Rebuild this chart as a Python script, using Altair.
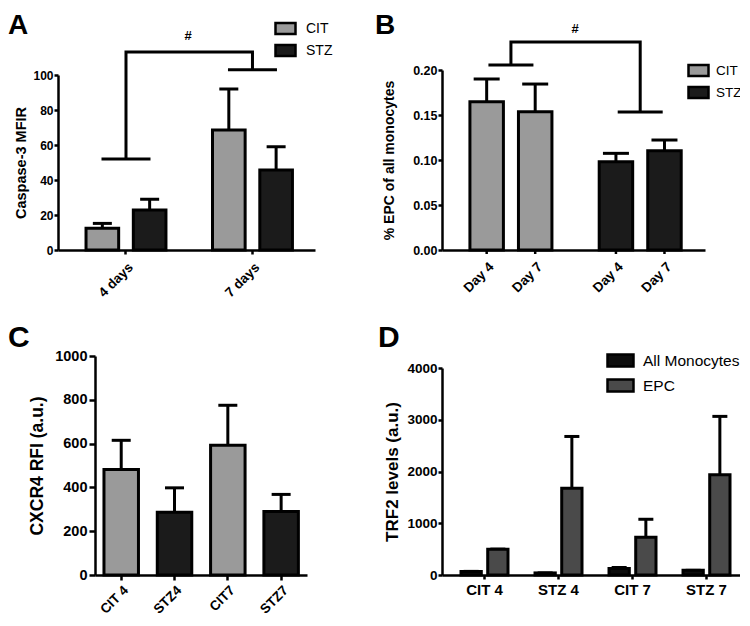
import altair as alt
import pandas as pd

FONT = "Liberation Sans"
CIT_C = "#9a9a9a"
STZ_C = "#1b1b1b"
AM_C = "#0d0d0d"
EPC_C = "#4a4a4a"
SW = 3  # stroke width used for bars / whiskers / brackets

# ---------------- data ----------------
# Panel A
a_groups = ["4 days", "7 days"]
a_series = ["CIT", "STZ"]
a_cit_mean = [12.4, 68.6]
a_cit_upper = [15.2, 92.0]
a_stz_mean = [22.9, 45.7]
a_stz_upper = [29.0, 59.0]
a_bracket_low = [52.0, 103.0]
a_bracket_top = 113.1
a_hash_y = 120.0

# Panel B
b_groups = ["CIT", "STZ"]
b_days = ["Day 4", "Day 7"]
b_cit_mean = [0.1648, 0.1537]
b_cit_upper = [0.190, 0.1844]
b_stz_mean = [0.0981, 0.1104]
b_stz_upper = [0.1074, 0.1222]
b_bracket_low = [0.2056, 0.1533]
b_bracket_top = 0.2311
b_hash_y = 0.241

# Panel C
c_labels = ["CIT 4", "STZ4", "CIT7", "STZ7"]
c_group = ["CIT", "STZ", "CIT", "STZ"]
c_mean = [482, 286, 593, 290]
c_upper = [615, 398, 775, 368]

# Panel D
d_labels = ["CIT 4", "STZ 4", "CIT 7", "STZ 7"]
d_series = ["All Monocytes", "EPC"]
d_all_mean = [70, 40, 128, 90]
d_all_upper = [70, 40, 145, 90]
d_epc_mean = [500, 1677, 729, 1935]
d_epc_upper = [500, 2677, 1077, 3065]

W1, W2 = 257, 302
H1, H2 = 180, 219


def yaxis(title, values, fmt, lsize, tsize, tpad, tick=4, lpad=1, offset=0):
    return alt.Axis(title=title, values=values, format=fmt, grid=False,
                    labelFont=FONT, labelFontWeight="bold", labelFontSize=lsize, labelColor="black",
                    labelPadding=lpad, titleFont=FONT, titleFontWeight="bold", titleFontSize=tsize,
                    titleColor="black", titlePadding=tpad, tickSize=tick, tickWidth=2.5, tickColor="black",
                    domainColor="black", domainWidth=2.5, offset=offset)


def xaxis(angle, lsize, lpad=2, tick=4):
    return alt.Axis(title=None, labelAngle=angle, labelFont=FONT, labelFontWeight="bold",
                    labelFontSize=lsize, labelColor="black", labelPadding=lpad, tickSize=tick,
                    tickWidth=2.5, tickColor="black", domainColor="black", domainWidth=2.5, grid=False)


def rect_legend(x, y, path, size, lsize, loff, rpad):
    return alt.Legend(title=None, orient="none", legendX=x, legendY=y, symbolType=path,
                      symbolSize=size, symbolStrokeColor="black", symbolStrokeWidth=2.5,
                      labelFont=FONT, labelFontSize=lsize, labelColor="black", labelOffset=loff,
                      rowPadding=rpad, padding=0)


def panel_label(letter, x, y, size):
    return alt.Chart(pd.DataFrame({"lbl": [letter]})).mark_text(
        align="left", baseline="top", font=FONT, fontWeight="bold", fontSize=size, color="black"
    ).encode(text="lbl:N", x=alt.value(x), y=alt.value(y))


def hash_text(df, x, y):
    return alt.Chart(df).mark_text(font=FONT, fontWeight="bold", fontSize=13, color="black",
                                   baseline="alphabetic").encode(x=alt.value(x), y=y, text="t:N")


# ---------------- Panel A ----------------
a_df = pd.DataFrame({
    "a_group": a_groups * 2,
    "a_series": ["CIT"] * 2 + ["STZ"] * 2,
    "a_mean": a_cit_mean + a_stz_mean,
    "a_upper": a_cit_upper + a_stz_upper,
})
a_path = pd.DataFrame({
    "a_group": [a_groups[0], a_groups[0], a_groups[1], a_groups[1]],
    "a_by": [a_bracket_low[0], a_bracket_top, a_bracket_top, a_bracket_low[1]],
    "a_ord": [0, 1, 2, 3],
})
a_low = pd.DataFrame({"a_group": a_groups, "a_low": a_bracket_low})
a_hash = pd.DataFrame({"a_hash": [a_hash_y], "t": ["#"]})

a_xscale = alt.Scale(domain=a_groups, range=[0, W1], paddingInner=0.368, paddingOuter=0.2, align=0.554)
a_xax = xaxis(315, 13.5, lpad=6)
a_yscale = alt.Scale(domain=[0, 100], range=[H1, 5], nice=False)
a_yax = yaxis("Caspase-3 MFIR", [0, 20, 40, 60, 80, 100], "d", 12, 14.5, 4)
a_xo = alt.XOffset("a_series:N", scale=alt.Scale(domain=a_series, paddingInner=0.31, paddingOuter=0))


def ax():
    return alt.X("a_group:N", scale=a_xscale, axis=a_xax)


def ay(f):
    return alt.Y(f, type="quantitative", scale=a_yscale, axis=a_yax)


a_base = alt.Chart(a_df)
A = alt.layer(
    a_base.mark_rule(color="black", strokeWidth=SW).encode(x=ax(), xOffset=a_xo, y=ay("a_mean"), y2="a_upper"),
    a_base.mark_tick(orient="horizontal", size=19, thickness=SW, color="black", opacity=1).encode(
        x=ax(), xOffset=a_xo, y=ay("a_upper")),
    a_base.mark_bar(stroke="black", strokeWidth=SW, opacity=1).encode(
        x=ax(), xOffset=a_xo, y=ay("a_mean"),
        color=alt.Color("a_series:N", scale=alt.Scale(domain=a_series, range=[CIT_C, STZ_C]),
                        legend=rect_legend(216, -53, "M-1,-0.55H1V0.55H-1Z", 400, 14, 9, 0))),
    alt.Chart(a_path).mark_line(color="black", strokeWidth=SW).encode(x=ax(), y=ay("a_by"), order="a_ord:Q"),
    alt.Chart(a_low).mark_tick(orient="horizontal", size=49, thickness=SW, color="black", opacity=1).encode(
        x=ax(), y=ay("a_low")),
    hash_text(a_hash, 130, ay("a_hash")),
    panel_label("A", -50, -58, 28),
).properties(width=W1, height=H1)

# ---------------- Panel B ----------------
b_df = pd.DataFrame({
    "b_group": ["CIT", "CIT", "STZ", "STZ"],
    "b_day": b_days * 2,
    "b_mean": b_cit_mean + b_stz_mean,
    "b_upper": b_cit_upper + b_stz_upper,
})
b_path = pd.DataFrame({
    "b_group": [b_groups[0], b_groups[0], b_groups[1], b_groups[1]],
    "b_by": [b_bracket_low[0], b_bracket_top, b_bracket_top, b_bracket_low[1]],
    "b_ord": [0, 1, 2, 3],
})
b_low = pd.DataFrame({"b_group": b_groups, "b_low": b_bracket_low})
b_hash = pd.DataFrame({"b_hash": [b_hash_y], "t": ["#"]})

b_xscale = alt.Scale(domain=b_groups, range=[0, 263], paddingInner=0.3656, paddingOuter=0.2, align=0.54)
b_xax = alt.Axis(title=None, labels=False, ticks=False, domainColor="black", domainWidth=2.5, grid=False)
b_yscale = alt.Scale(domain=[0, 0.2], range=[H1, 0], nice=False)
b_yax = yaxis("% EPC of all monocytes", [0, 0.05, 0.1, 0.15, 0.2], ".2f", 12.5, 14, 16)
b_xo = alt.XOffset("b_day:N", scale=alt.Scale(domain=b_days, paddingInner=0.31, paddingOuter=0))


def bx():
    return alt.X("b_group:N", scale=b_xscale, axis=b_xax)


def by(f):
    return alt.Y(f, type="quantitative", scale=b_yscale, axis=b_yax)


b_base = alt.Chart(b_df)
B = alt.layer(
    b_base.mark_rule(color="black", strokeWidth=SW).encode(x=bx(), xOffset=b_xo, y=by("b_mean"), y2="b_upper"),
    b_base.mark_tick(orient="horizontal", size=26, thickness=SW, color="black", opacity=1).encode(
        x=bx(), xOffset=b_xo, y=by("b_upper")),
    b_base.mark_bar(stroke="black", strokeWidth=SW, opacity=1).encode(
        x=bx(), xOffset=b_xo, y=by("b_mean"),
        color=alt.Color("b_group:N", scale=alt.Scale(domain=b_groups, range=[CIT_C, STZ_C]),
                        legend=rect_legend(245, -11, "M-1,-0.55H1V0.55H-1Z", 400, 13.5, 6, 0))),
    b_base.mark_rule(color="black", strokeWidth=2.5).encode(
        x=bx(), xOffset=b_xo, y=alt.value(H1), y2=alt.value(H1 + 4)),
    b_base.mark_text(angle=315, align="right", baseline="top", font=FONT, fontWeight="bold", fontSize=13.5,
                     color="black").encode(x=bx(), xOffset=b_xo, y=alt.value(H1 + 10), text="b_day:N"),
    alt.Chart(b_path).mark_line(color="black", strokeWidth=SW).encode(x=bx(), y=by("b_by"), order="b_ord:Q"),
    alt.Chart(b_low).mark_tick(orient="horizontal", size=45, thickness=SW, color="black", opacity=1).encode(
        x=bx(), y=by("b_low")),
    hash_text(b_hash, 133, by("b_hash")),
    panel_label("B", -67, -58, 28),
).properties(width=W2, height=H1)

# ---------------- Panel C ----------------
c_df = pd.DataFrame({"c_label": c_labels, "c_group": c_group, "c_mean": c_mean, "c_upper": c_upper})
c_xscale = alt.Scale(domain=c_labels, range=[37, 249], paddingInner=0.353, paddingOuter=0.165, align=0.51)
c_xax = xaxis(315, 13.5, lpad=3, tick=5)
c_yscale = alt.Scale(domain=[0, 1000], range=[H2, 0], nice=False)
c_yax = yaxis("CXCR4 RFI (a.u.)", [0, 200, 400, 600, 800, 1000], "d", 14.5, 17.5, 8, tick=6, lpad=2, offset=-37)


def cx():
    return alt.X("c_label:N", sort=c_labels, scale=c_xscale, axis=c_xax)


def cy(f):
    return alt.Y(f, type="quantitative", scale=c_yscale, axis=c_yax)


c_base = alt.Chart(c_df)
C = alt.layer(
    c_base.mark_rule(color="black", strokeWidth=SW).encode(x=cx(), y=cy("c_mean"), y2="c_upper"),
    c_base.mark_tick(orient="horizontal", size=19, thickness=SW, color="black", opacity=1).encode(
        x=cx(), y=cy("c_upper")),
    c_base.mark_bar(stroke="black", strokeWidth=SW, opacity=1).encode(
        x=cx(), y=cy("c_mean"),
        color=alt.Color("c_group:N", scale=alt.Scale(domain=["CIT", "STZ"], range=[CIT_C, STZ_C]), legend=None)),
    panel_label("C", -50, -33, 30),
).properties(width=W1, height=H2)

# ---------------- Panel D ----------------
d_df = pd.DataFrame({
    "d_label": d_labels * 2,
    "d_series": [d_series[0]] * 4 + [d_series[1]] * 4,
    "d_mean": d_all_mean + d_epc_mean,
    "d_upper": d_all_upper + d_epc_upper,
})
d_xscale = alt.Scale(domain=d_labels, range=[0, W2], paddingInner=0.365, paddingOuter=0.223, align=0.576)
d_xax = xaxis(0, 15, lpad=3, tick=4)
d_yscale = alt.Scale(domain=[0, 4000], range=[H2, 12], nice=False)
d_yax = yaxis("TRF2 levels (a.u.)", [0, 1000, 2000, 3000, 4000], "d", 13.5, 17, 5, tick=4, lpad=1)
d_xo = alt.XOffset("d_series:N", scale=alt.Scale(domain=d_series, paddingInner=0.24, paddingOuter=0))


def dx():
    return alt.X("d_label:N", sort=d_labels, scale=d_xscale, axis=d_xax)


def dy(f):
    return alt.Y(f, type="quantitative", scale=d_yscale, axis=d_yax)


d_base = alt.Chart(d_df)
D = alt.layer(
    d_base.mark_rule(color="black", strokeWidth=SW).encode(x=dx(), xOffset=d_xo, y=dy("d_mean"), y2="d_upper"),
    d_base.mark_tick(orient="horizontal", size=15, thickness=SW, color="black", opacity=1).encode(
        x=dx(), xOffset=d_xo, y=dy("d_upper")),
    d_base.mark_bar(stroke="black", strokeWidth=SW, opacity=1).encode(
        x=dx(), xOffset=d_xo, y=dy("d_mean"),
        color=alt.Color("d_series:N", scale=alt.Scale(domain=d_series, range=[AM_C, EPC_C]),
                        legend=rect_legend(166.5, -7.5, "M-1.238,-0.571H1.238V0.571H-1.238Z", 441, 15.5, 10.5, 2))),
    panel_label("D", -64, -33, 30),
).properties(width=W2, height=H2)

chart = alt.concat(
    A, B, C, D, columns=2, spacing={"row": 106, "column": 127}, bounds="flush"
).resolve_scale(
    x="independent", y="independent", color="independent", xOffset="independent"
).resolve_legend(color="independent").properties(
    padding={"left": 0, "top": 4, "right": -4, "bottom": 0}
).configure_view(stroke=None)

chart.save("out.html", embed_options={"renderer": "svg", "actions": False})
